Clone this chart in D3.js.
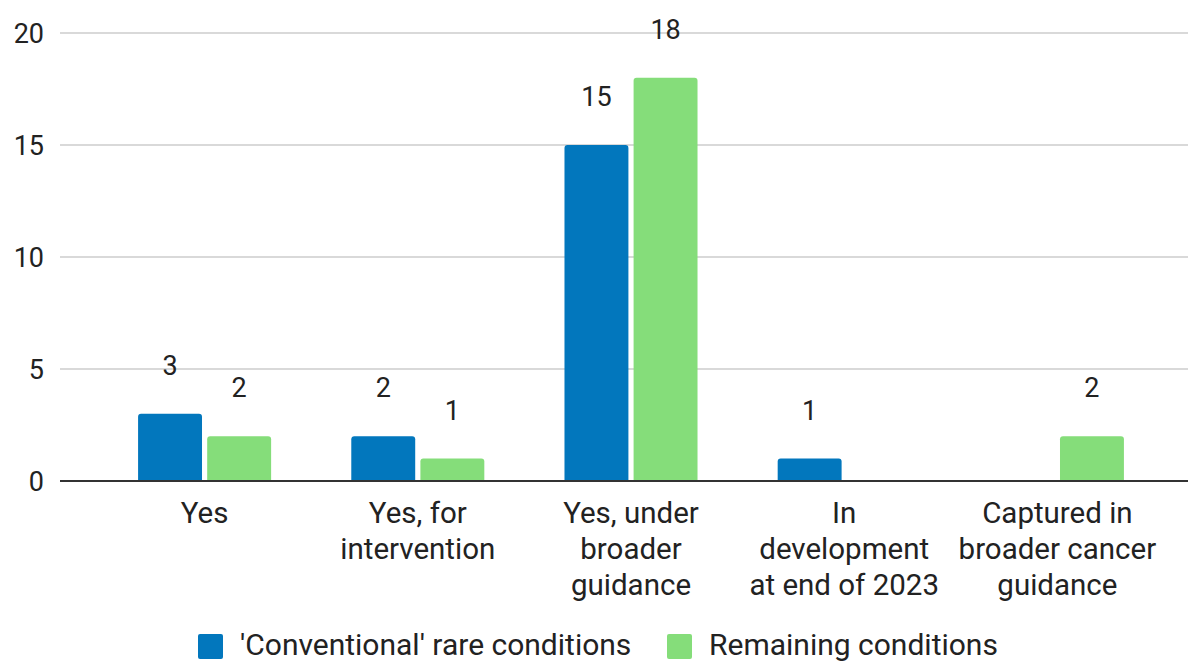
<!DOCTYPE html>
<html>
<head>
<meta charset="utf-8">
<script src="https://cdn.jsdelivr.net/npm/d3@7"></script>
<style>
  html, body { margin: 0; padding: 0; background: #fff; }
  svg { display: block; font-family: Roboto, "Noto Sans", sans-serif; }
</style>
</head>
<body>
<svg id="chart" width="1188" height="662"></svg>
<script>
// Guidance status categories (multi-line labels)
const categories = [
  ["Yes"],
  ["Yes, for", "intervention"],
  ["Yes, under", "broader", "guidance"],
  ["In", "development", "at end of 2023"],
  ["Captured in", "broader cancer", "guidance"]
];
const seriesNames = ["'Conventional' rare conditions", "Remaining conditions"];
const conventional = [3, 2, 15, 1, 0];
const remaining = [2, 1, 18, 0, 2];
const yTicks = [0, 5, 10, 15, 20];
const colors = ["#0277bd", "#85dd7a"];

const W = 1188, H = 662;
const svg = d3.select("#chart");

const catKeys = categories.map(c => c.join(" "));
const values = [conventional, remaining];

const x0 = d3.scaleBand().domain(catKeys).range([98, 1164]).paddingInner(0).paddingOuter(0);
const groupW = x0.step() * 0.624;
const x1 = d3.scaleBand().domain(seriesNames).range([0, groupW]).paddingInner(0.075);
const y = d3.scaleLinear().domain([0, 20]).range([481, 33]);

// Gridlines
svg.append("g").selectAll("line").data(yTicks.filter(t => t !== 0)).join("line")
  .attr("x1", 60).attr("x2", W)
  .attr("y1", d => y(d)).attr("y2", d => y(d))
  .attr("stroke", "#cccccc").attr("stroke-width", 1.5);

// Y axis labels
const yAxis = d3.axisLeft(y).tickValues(yTicks).tickSize(0).tickPadding(0);
const gy = svg.append("g").attr("transform", "translate(44,0)").call(yAxis);
gy.select(".domain").remove();
gy.selectAll("text")
  .attr("font-size", 27).attr("fill", "#222").attr("dy", "0.35em")
  .style("font-family", "Roboto, 'Noto Sans', sans-serif");

// Rounded-top bar path
function barPath(x, yTop, w, yBase, r) {
  const h = yBase - yTop;
  r = Math.min(r, h, w / 2);
  return `M${x},${yBase}V${yTop + r}Q${x},${yTop} ${x + r},${yTop}H${x + w - r}Q${x + w},${yTop} ${x + w},${yTop + r}V${yBase}Z`;
}

const bars = [];
catKeys.forEach((k, i) => {
  seriesNames.forEach((s, j) => {
    bars.push({ cat: k, series: s, value: values[j][i], color: colors[j] });
  });
});
const shown = bars.filter(d => d.value > 0);

svg.append("g").selectAll("path").data(shown).join("path")
  .attr("d", d => barPath(x0(d.cat) + (x0.step() - groupW) / 2 + x1(d.series), y(d.value), x1.bandwidth(), y(0), 3))
  .attr("fill", d => d.color);

// Value labels
svg.append("g").selectAll("text").data(shown).join("text")
  .attr("x", d => x0(d.cat) + (x0.step() - groupW) / 2 + x1(d.series) + x1.bandwidth() / 2)
  .attr("y", d => y(d.value) - 39)
  .attr("text-anchor", "middle")
  .attr("font-size", 27).attr("fill", "#222")
  .text(d => d.value);

// Baseline
svg.append("line")
  .attr("x1", 60).attr("x2", W)
  .attr("y1", y(0)).attr("y2", y(0))
  .attr("stroke", "#333").attr("stroke-width", 2);

// Category labels
const catG = svg.append("g").selectAll("text").data(categories).join("text")
  .attr("x", (d, i) => x0(catKeys[i]) + x0.step() / 2)
  .attr("y", 523)
  .attr("text-anchor", "middle")
  .attr("font-size", 29.5).attr("fill", "#222");
catG.selectAll("tspan").data(d => d).join("tspan")
  .attr("x", function() { return this.parentNode.getAttribute("x"); })
  .attr("dy", (d, i) => i === 0 ? 0 : 36)
  .text(d => d);

// Legend
const legend = svg.append("g");
const legendItems = [
  { name: seriesNames[0], color: colors[0], x: 198 },
  { name: seriesNames[1], color: colors[1], x: 667 }
];
legendItems.forEach(it => {
  legend.append("rect").attr("x", it.x).attr("y", 634).attr("width", 25).attr("height", 25)
    .attr("rx", 2).attr("fill", it.color);
  legend.append("text").attr("x", it.x + 42).attr("y", 655)
    .attr("font-size", 30).attr("fill", "#222").text(it.name);
});
</script>
</body>
</html>
